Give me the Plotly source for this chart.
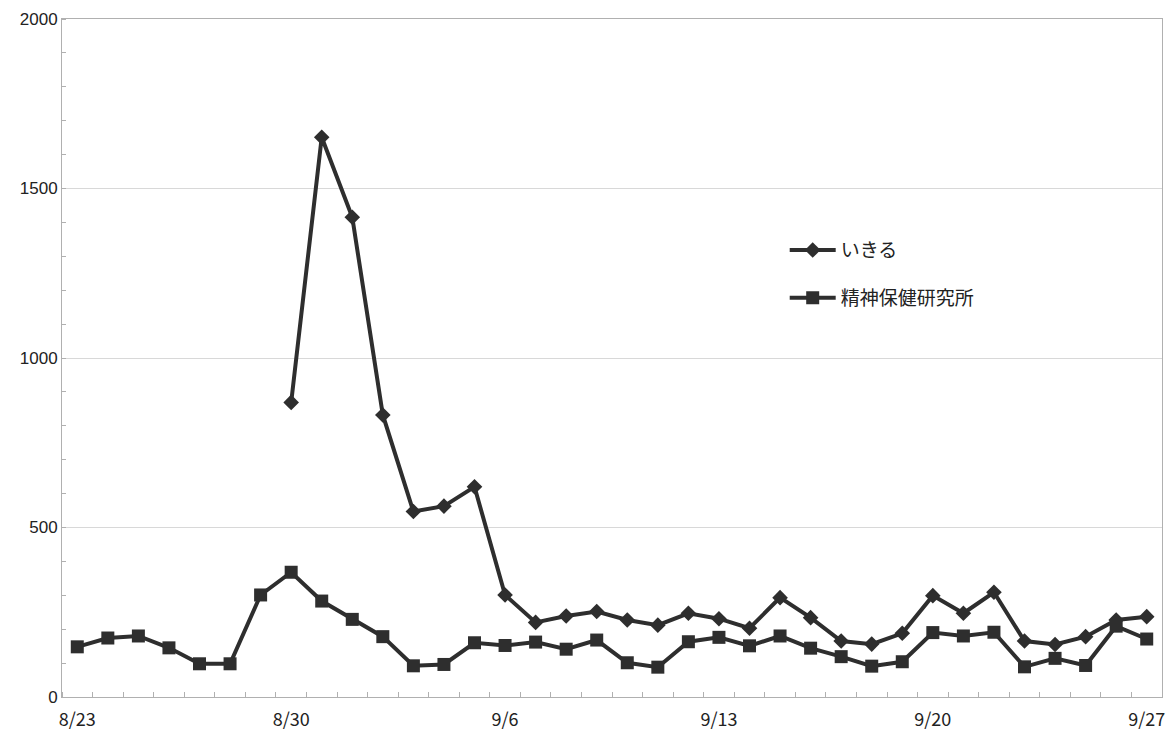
import plotly.graph_objects as go

# Daily counts, 8/23 – 9/27
dates = ["8/23", "8/24", "8/25", "8/26", "8/27", "8/28", "8/29", "8/30", "8/31",
         "9/1", "9/2", "9/3", "9/4", "9/5", "9/6", "9/7", "9/8", "9/9", "9/10",
         "9/11", "9/12", "9/13", "9/14", "9/15", "9/16", "9/17", "9/18", "9/19",
         "9/20", "9/21", "9/22", "9/23", "9/24", "9/25", "9/26", "9/27"]

ikiru = [None, None, None, None, None, None, None, 869, 1651,
         1415, 832, 547, 563, 620, 301, 220, 239, 252, 227,
         212, 247, 231, 203, 293, 234, 165, 156, 188,
         299, 247, 309, 165, 155, 178, 227, 237]

seishin = [148, 174, 180, 145, 98, 98, 301, 368, 283,
           229, 178, 92, 96, 160, 152, 162, 141, 168, 101,
           88, 163, 176, 151, 180, 144, 119, 91, 104,
           190, 180, 191, 89, 114, 93, 209, 171]

label_dates = ["8/23", "8/30", "9/6", "9/13", "9/20", "9/27"]

x = list(range(len(dates)))
label_pos = [dates.index(d) for d in label_dates]

line_color = "#2e2e2e"
font_family = "Noto Sans CJK JP, Liberation Sans, sans-serif"

fig = go.Figure()
fig.add_trace(go.Scatter(
    x=x, y=ikiru, name="いきる", mode="lines+markers", legendgroup="a",
    line=dict(color=line_color, width=4),
    marker=dict(symbol="diamond", size=12, color=line_color),
    connectgaps=False,
))
fig.add_trace(go.Scatter(
    x=x, y=seishin, name="精神保健研究所", mode="lines+markers", legendgroup="b",
    line=dict(color=line_color, width=4),
    marker=dict(symbol="square", size=13, color=line_color),
))

fig.update_layout(
    width=1170, height=731,
    margin=dict(l=62, r=8, t=19, b=34),
    paper_bgcolor="white", plot_bgcolor="white",
    font=dict(family=font_family, size=16, color="#222222"),
    showlegend=True,
    legend=dict(
        x=0.657, y=0.687, xanchor="left", yanchor="top",
        bgcolor="rgba(0,0,0,0)", tracegroupgap=20,
        itemwidth=46,
        font=dict(family=font_family, size=19, color="#222222"),
    ),
    xaxis=dict(
        range=[-0.5, len(dates) - 0.5],
        tickmode="array", tickvals=label_pos, ticktext=label_dates,
        ticks="", showgrid=False, zeroline=False, automargin=False,
        showline=True, linecolor="#b0b0b0", linewidth=1, mirror=True,
        minor=dict(tickmode="linear", tick0=-0.5, dtick=1, ticks="inside",
                   ticklen=5, tickcolor="#b0b0b0", showgrid=False),
        tickfont=dict(family=font_family, size=18),
        ticklabelstandoff=6,
        fixedrange=True,
    ),
    yaxis=dict(
        range=[0, 2000],
        tickmode="array", tickvals=[0, 500, 1000, 1500, 2000],
        ticks="", showgrid=True, gridcolor="#d8d8d8", gridwidth=1,
        zeroline=False, automargin=False,
        showline=True, linecolor="#b0b0b0", linewidth=1, mirror=True,
        minor=dict(tickmode="linear", tick0=0, dtick=100, ticks="inside",
                   ticklen=4, tickcolor="#b0b0b0", showgrid=False),
        tickfont=dict(family="Liberation Sans, Arial, sans-serif", size=17),
        ticklabelstandoff=0,
        fixedrange=True,
    ),
)

fig.write_html("out.html")
